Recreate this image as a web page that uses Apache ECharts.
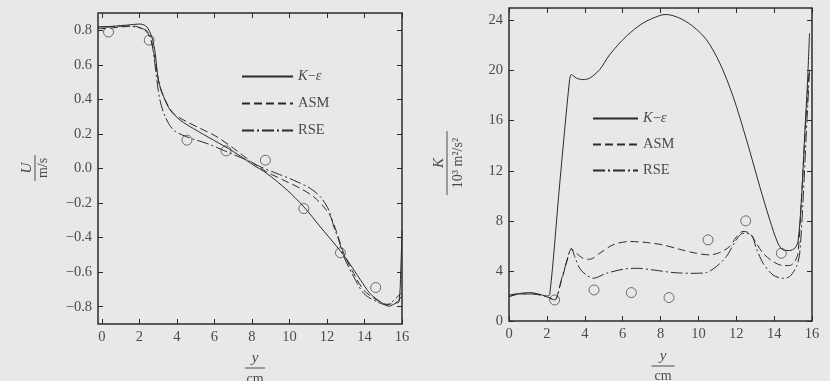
<!DOCTYPE html>
<html>
<head>
<meta charset="utf-8">
<script src="https://cdn.jsdelivr.net/npm/echarts@6/dist/echarts.min.js"></script>
<style>
  html, body { margin: 0; padding: 0; background: #e7e9e8; }
  #chart { width: 830px; height: 381px; }
</style>
</head>
<body>
<div id="chart"></div>
<script>
// tick labels
const yTicksU = [-0.8, -0.6, -0.4, -0.2, 0, 0.2, 0.4, 0.6, 0.8];
const yTicksK = [0, 4, 8, 12, 16, 20, 24];
const xTicks = [0, 2, 4, 6, 8, 10, 12, 14, 16];

// left panel: U (m/s) vs y (cm)
const uKe = [[-0.2, 0.82], [0, 0.82], [1.33, 0.83], [2.05, 0.836], [2.4, 0.82], [2.67, 0.76], [2.85, 0.666],
  [3.02, 0.51], [3.3, 0.415], [3.65, 0.338], [4.18, 0.28], [4.9, 0.23], [5.96, 0.164], [7.03, 0.097],
  [8.1, 0.019], [8.8, -0.029], [9.88, -0.125], [10.77, -0.222], [11.65, -0.338], [12.54, -0.454],
  [13.08, -0.53], [13.8, -0.647], [14.3, -0.724], [14.86, -0.772], [15.3, -0.797], [15.66, -0.78],
  [15.84, -0.772], [15.93, -0.6], [16, -0.36]];
const uAsm = [[-0.2, 0.81], [0, 0.81], [1.7, 0.824], [2.4, 0.79], [2.67, 0.724], [2.9, 0.59], [3.1, 0.473],
  [3.38, 0.396], [3.83, 0.318], [4.54, 0.27], [5.25, 0.232], [6.14, 0.183], [7.03, 0.116], [8.1, 0.029],
  [8.8, -0.02], [9.7, -0.068], [10.6, -0.116], [11.3, -0.164], [11.83, -0.222], [12.2, -0.28],
  [12.54, -0.376], [12.9, -0.492], [13.43, -0.608], [13.97, -0.705], [14.68, -0.763], [15.2, -0.786],
  [15.75, -0.772], [15.95, -0.74]];
const uRse = [[-0.2, 0.82], [0, 0.82], [1.33, 0.824], [2.4, 0.797], [2.67, 0.724], [2.94, 0.51], [3.1, 0.396],
  [3.38, 0.3], [3.83, 0.222], [4.54, 0.183], [5.6, 0.145], [6.67, 0.097], [7.74, 0.048], [8.45, 0.01],
  [9.34, -0.029], [10.23, -0.068], [11.12, -0.116], [11.65, -0.164], [12.1, -0.241], [12.37, -0.338],
  [12.63, -0.415], [12.9, -0.51], [13.43, -0.627], [13.97, -0.724], [14.68, -0.772], [15.2, -0.79],
  [15.66, -0.753], [15.95, -0.72]];
const uExp = [[0.36, 0.79], [2.53, 0.743], [4.54, 0.164], [6.62, 0.102], [8.72, 0.048], [10.77, -0.232],
  [12.72, -0.488], [14.6, -0.689]];

// right panel: K (10^3 m^2/s^2) vs y (cm)
const kKe = [[0, 2.08], [0.56, 2.2], [1.09, 2.27], [1.62, 2.13], [1.97, 2.0], [2.15, 2.1], [2.68, 11.0],
  [3.2, 19.28], [3.29, 19.68], [3.56, 19.4], [3.9, 19.28], [4.26, 19.4], [4.79, 20.08], [5.32, 21.28],
  [6.2, 22.75], [7.08, 23.8], [7.96, 24.4], [8.3, 24.48], [9.0, 24.2], [9.7, 23.55], [10.42, 22.48],
  [11.13, 20.6], [11.83, 17.95], [12.54, 14.48], [13.24, 10.75], [13.77, 8.08], [14.2, 6.21],
  [14.47, 5.68], [14.82, 5.63], [15.09, 5.81], [15.26, 6.35], [15.44, 9.68], [15.62, 15.0],
  [15.76, 19.0], [15.87, 23.0]];
const kAsm = [[0, 1.95], [0.56, 2.16], [1.27, 2.16], [1.97, 1.95], [2.41, 1.68], [2.68, 2.75], [3.03, 4.61],
  [3.29, 5.73], [3.56, 5.41], [3.91, 5.01], [4.26, 4.93], [4.79, 5.41], [5.49, 6.08], [6.37, 6.35],
  [7.25, 6.27], [8.13, 6.08], [9.0, 5.73], [9.89, 5.41], [10.6, 5.28], [11.13, 5.47], [11.65, 5.95],
  [12.0, 6.69], [12.36, 7.15], [12.71, 7.01], [13.06, 6.21], [13.42, 5.41], [13.94, 4.75],
  [14.47, 4.43], [14.82, 4.43], [15.09, 4.75], [15.26, 5.41], [15.44, 9.68], [15.65, 15.5],
  [15.85, 20.0]];
const kRse = [[0, 1.95], [0.56, 2.16], [1.27, 2.16], [1.97, 1.95], [2.41, 1.68], [2.76, 3.28], [3.12, 5.15],
  [3.29, 5.81], [3.47, 5.15], [3.73, 4.21], [4.08, 3.68], [4.44, 3.41], [5.14, 3.81], [6.02, 4.13],
  [6.73, 4.21], [7.6, 4.08], [8.66, 3.87], [9.72, 3.81], [10.42, 3.87], [10.95, 4.35], [11.48, 5.15],
  [12.0, 6.48], [12.36, 7.01], [12.8, 6.88], [13.06, 5.81], [13.42, 4.61], [13.94, 3.68],
  [14.47, 3.41], [14.82, 3.55], [15.18, 4.35], [15.35, 5.41], [15.53, 9.68], [15.7, 15.0],
  [15.87, 20.0]];
const kExp = [[2.41, 1.68], [4.49, 2.48], [6.46, 2.27], [8.45, 1.87], [10.51, 6.48], [12.5, 8.0],
  [14.38, 5.41]];

const ink = '#2b2b2b';
const txt = '#4a4a4a';
const font = 'Liberation Serif';
const names = ['K−ε', 'ASM', 'RSE'];
const dashes = ['solid', [8, 4], [12, 3, 2, 3]];

const fmtU = v => (v < 0 ? '−' : '') + Math.abs(v).toFixed(1);

function xAxisFor(grid, min, pos, labels) {
  return {
    type: 'value', gridIndex: grid, min: min, max: 16, position: pos,
    axisLine: { show: false, onZero: false },
    splitLine: { show: false },
    axisTick: { show: true, inside: true, length: 5, customValues: xTicks, lineStyle: { color: ink, width: 1 } },
    axisLabel: { show: labels, customValues: xTicks, margin: 6, color: txt, fontFamily: font, fontSize: 14.5 }
  };
}
function yAxisFor(grid, min, max, ticks, pos, labels, fmt) {
  return {
    type: 'value', gridIndex: grid, min: min, max: max, position: pos,
    axisLine: { show: false, onZero: false },
    splitLine: { show: false },
    axisTick: { show: true, inside: true, length: 5, customValues: ticks, lineStyle: { color: ink, width: 1 } },
    axisLabel: { show: labels, customValues: ticks, margin: 6, color: txt, fontFamily: font, fontSize: 14.5, formatter: fmt }
  };
}

function lineSeries(i, xi, yi, data) {
  return {
    name: names[i], type: 'line', xAxisIndex: xi, yAxisIndex: yi, data: data,
    symbol: 'none', smooth: 0.3, animation: false,
    lineStyle: { color: ink, width: 1, type: dashes[i] },
    itemStyle: { color: ink }
  };
}
function expSeries(xi, yi, data) {
  return {
    name: 'exp', type: 'scatter', xAxisIndex: xi, yAxisIndex: yi, data: data,
    symbol: 'circle', symbolSize: 10, animation: false,
    itemStyle: { color: 'rgba(0,0,0,0)', borderColor: '#3a3a3a', borderWidth: 0.9 }
  };
}

function legendAt(left, top, w, gap) {
  return {
    orient: 'vertical', left: left, top: top, data: names,
    itemWidth: w, itemHeight: 14, itemGap: gap,
    selectedMode: false,
    itemStyle: { opacity: 0 },
    textStyle: {
      color: txt, fontFamily: font, fontSize: 14.5,
      rich: { i: { fontStyle: 'italic', color: txt, fontFamily: font, fontSize: 14.5 } }
    },
    formatter: n => n === 'K−ε' ? '{i|K}−{i|ε}' : n
  };
}

function fraction(x, y, rot, top, bottom, len, topOff, botOff) {
  return {
    type: 'group', x: x, y: y, rotation: rot,
    children: [
      { type: 'text', y: topOff, style: { text: top, fill: txt, font: 'italic 15px "Liberation Serif"', align: 'center', verticalAlign: 'middle' } },
      { type: 'line', shape: { x1: -len / 2, y1: 0, x2: len / 2, y2: 0 }, style: { stroke: txt, lineWidth: 1 } },
      { type: 'text', y: botOff, style: { text: bottom, fill: txt, font: '14px "Liberation Serif"', align: 'center', verticalAlign: 'middle' } }
    ]
  };
}

const chart = echarts.init(document.getElementById('chart'), null, { renderer: 'canvas' });
chart.setOption({
  backgroundColor: '#e7e9e8',
  animation: false,
  grid: [
    { left: 98, right: 428, top: 13, bottom: 57, show: true, borderColor: ink, borderWidth: 1.5, backgroundColor: 'transparent' },
    { left: 509, right: 18, top: 8, bottom: 60, show: true, borderColor: ink, borderWidth: 1.5, backgroundColor: 'transparent' }
  ],
  xAxis: [
    xAxisFor(0, -0.2, 'bottom', true),
    xAxisFor(0, -0.2, 'top', false),
    xAxisFor(1, 0, 'bottom', true),
    xAxisFor(1, 0, 'top', false)
  ],
  yAxis: [
    yAxisFor(0, -0.9, 0.9, yTicksU, 'left', true, fmtU),
    yAxisFor(0, -0.9, 0.9, yTicksU, 'right', false, fmtU),
    yAxisFor(1, 0, 25, yTicksK, 'left', true, null),
    yAxisFor(1, 0, 25, yTicksK, 'right', false, null)
  ],
  legend: [legendAt(236, 64, 51, 12), legendAt(587, 106, 45, 11)],
  series: [
    lineSeries(0, 0, 0, uKe), lineSeries(1, 0, 0, uAsm), lineSeries(2, 0, 0, uRse), expSeries(0, 0, uExp),
    lineSeries(0, 2, 2, kKe), lineSeries(1, 2, 2, kAsm), lineSeries(2, 2, 2, kRse), expSeries(2, 2, kExp)
  ],
  graphic: [
    fraction(35, 168, Math.PI / 2, 'U', 'm/s', 26, -8, 8),
    fraction(447, 163, Math.PI / 2, 'K', '10³ m²/s²', 64, -8, 11),
    fraction(255, 368, 0, 'y', 'cm', 20, -10, 11),
    fraction(663, 366, 0, 'y', 'cm', 23, -10, 10)
  ]
});
</script>
</body>
</html>
